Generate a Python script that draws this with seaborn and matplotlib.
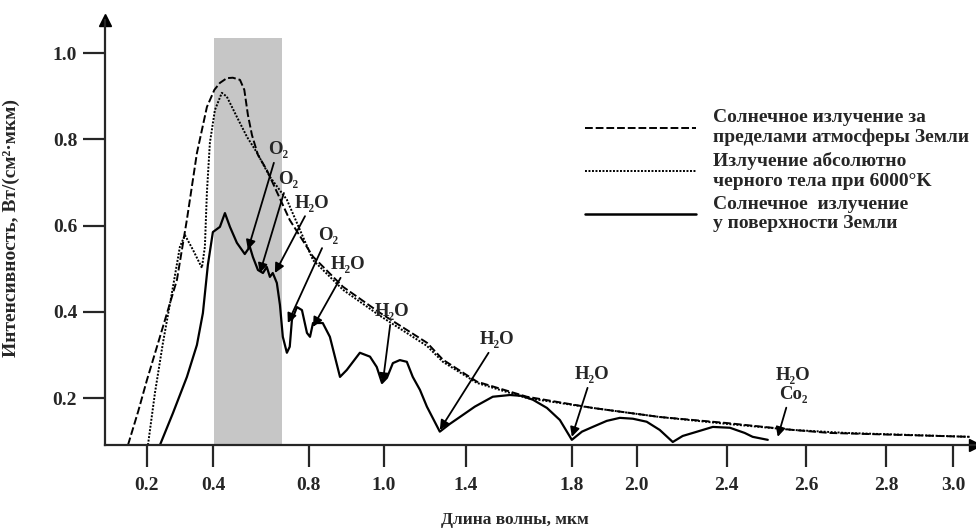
import numpy as np
import pandas as pd
import matplotlib
matplotlib.use('Agg')
import matplotlib.pyplot as plt
import seaborn as sns
from matplotlib.lines import Line2D

# --- data (wavelength in um, intensity in W/(cm2*um)) ---
sun_outside_wl = [0.144, 0.175, 0.201, 0.24, 0.291, 0.321, 0.351, 0.381, 0.405, 0.428,
                  0.457, 0.482, 0.512, 0.53, 0.545, 0.562, 0.587, 0.624, 0.72, 0.811,
                  0.891, 0.989, 1.211, 1.288, 1.442, 1.631, 1.865, 2.102, 2.4, 2.566,
                  2.658, 3.05]
sun_outside_val = [0.091, 0.17, 0.242, 0.342, 0.474, 0.614, 0.768, 0.875, 0.915, 0.931,
                   0.942, 0.943, 0.938, 0.915, 0.857, 0.81, 0.764, 0.729, 0.613, 0.528,
                   0.458, 0.398, 0.328, 0.289, 0.238, 0.203, 0.177, 0.156, 0.142, 0.126,
                   0.119, 0.110]

blackbody_wl = [0.204, 0.225, 0.249, 0.276, 0.30, 0.315, 0.339, 0.366, 0.375, 0.381,
                0.39, 0.407, 0.436, 0.457, 0.499, 0.541, 0.583, 0.637, 0.708, 0.811,
                0.891, 0.989, 1.21, 1.288, 1.442, 1.631, 1.865, 2.102, 2.4, 2.566,
                2.7, 3.05]
blackbody_val = [0.091, 0.212, 0.328, 0.444, 0.551, 0.578, 0.544, 0.502, 0.551, 0.676,
                 0.792, 0.868, 0.908, 0.899, 0.852, 0.806, 0.769, 0.713, 0.66, 0.52,
                 0.451, 0.391, 0.321, 0.284, 0.235, 0.2, 0.177, 0.156, 0.14, 0.126,
                 0.119, 0.11]

surface_wl = [0.240, 0.279, 0.321, 0.351, 0.369, 0.384, 0.399, 0.428, 0.449, 0.470,
              0.499, 0.532, 0.553, 0.566, 0.587, 0.608, 0.624, 0.637, 0.649, 0.666,
              0.679, 0.691, 0.708, 0.720, 0.729, 0.750, 0.771, 0.792, 0.803, 0.811,
              0.837, 0.856, 0.883, 0.901, 0.936, 0.963, 0.981, 0.995, 1.015, 1.044,
              1.078, 1.112, 1.141, 1.176, 1.210, 1.273, 1.322, 1.371, 1.434, 1.502,
              1.567, 1.612, 1.654, 1.707, 1.756, 1.801, 1.832, 1.865, 1.908, 1.948,
              1.988, 2.044, 2.102, 2.160, 2.204, 2.249, 2.338, 2.408, 2.445, 2.465,
              2.503]
surface_val = [0.091, 0.165, 0.249, 0.323, 0.397, 0.509, 0.585, 0.597, 0.629, 0.597,
               0.560, 0.534, 0.551, 0.527, 0.497, 0.490, 0.504, 0.481, 0.490, 0.467,
               0.416, 0.342, 0.305, 0.319, 0.381, 0.411, 0.404, 0.351, 0.342, 0.374,
               0.374, 0.342, 0.249, 0.265, 0.305, 0.296, 0.272, 0.235, 0.247, 0.281,
               0.288, 0.284, 0.249, 0.219, 0.180, 0.122, 0.140, 0.156, 0.180, 0.203,
               0.207, 0.205, 0.196, 0.177, 0.149, 0.103, 0.122, 0.133, 0.147, 0.154,
               0.152, 0.145, 0.126, 0.098, 0.112, 0.119, 0.133, 0.131, 0.119, 0.110,
               0.103]

visible_band = [0.405, 0.687]

# absorption labels: text, label position, arrow tip
absorb_labels = ['O₂', 'O₂', 'H₂O', 'O₂', 'H₂O', 'H₂O', 'H₂O', 'H₂O', 'H₂O\nCo₂']
absorb_text_xy = [(0.670, 0.776), (0.712, 0.706), (0.808, 0.652), (0.851, 0.578),
                  (0.904, 0.509), (1.039, 0.400), (1.517, 0.335), (1.862, 0.254),
                  (2.566, 0.230)]
absorb_tip_xy = [(0.545, 0.544), (0.595, 0.490), (0.658, 0.490), (0.712, 0.374),
                 (0.811, 0.365), (0.997, 0.235), (1.273, 0.126), (1.801, 0.110),
                 (2.528, 0.110)]

x_ticks = [0.2, 0.4, 0.8, 1.0, 1.4, 1.8, 2.0, 2.4, 2.6, 2.8, 3.0]
y_ticks = [0.2, 0.4, 0.6, 0.8, 1.0]

legend_labels = ['Солнечное излучение за\nпределами атмосферы Земли',
                 'Излучение абсолютно\nчерного тела при 6000°K',
                 'Солнечное  излучение\nу поверхности Земли']

# the original x axis is drawn unevenly; reproduce it with a piecewise scale
scale_wl = [0.0, 0.2, 0.4, 0.8, 1.0, 1.4, 1.8, 2.0, 2.4, 2.6, 2.8, 3.0, 3.5]
scale_pos = [80.1, 146.7, 213.3, 309.0, 384.0, 466.0, 571.7, 637.0, 727.0, 806.7,
             886.7, 953.3, 1119.8]


def fwd(x):
    return np.interp(x, scale_wl, scale_pos)


def inv(p):
    return np.interp(p, scale_pos, scale_wl)


sns.set_style('ticks')
plt.rcParams['font.family'] = ['Liberation Serif', 'DejaVu Serif']

fig = plt.figure(figsize=(9.76, 5.32), dpi=100)
ax = fig.add_axes([0.1076, 0.1635, 0.891, 0.799])
ax.set_xscale('function', functions=(fwd, inv))
ax.set_xlim(0.075, 3.065)
ax.set_ylim(0.091, 1.077)

ax.axvspan(visible_band[0], visible_band[1], ymin=0, ymax=0.958,
           color='#c6c6c6', lw=0, zorder=0)

sns.lineplot(x=sun_outside_wl, y=sun_outside_val, ax=ax, estimator=None, sort=False,
             color='black', lw=1.4, dashes=False)
sns.lineplot(x=blackbody_wl, y=blackbody_val, ax=ax, estimator=None, sort=False,
             color='black', lw=1.4, dashes=False)
sns.lineplot(x=surface_wl, y=surface_val, ax=ax, estimator=None, sort=False,
             color='black', lw=1.6, dashes=False)
ax.lines[0].set_dashes((4, 1.5))
ax.lines[1].set_dashes((1, 0.8))

for lab, txy, tip in zip(absorb_labels, absorb_text_xy, absorb_tip_xy):
    ax.annotate(lab, xy=tip, xytext=txy, ha='center', va='center', fontsize=13.5,
                fontweight='bold', linespacing=1.15,
                arrowprops=dict(arrowstyle='-|>', color='black', lw=1.3,
                                mutation_scale=14, shrinkA=1, shrinkB=0))

ax.set_xticks(x_ticks)
ax.set_xticklabels([f'{t:.1f}' for t in x_ticks])
ax.set_yticks(y_ticks)
ax.set_yticklabels([f'{t:.1f}' for t in y_ticks])
ax.minorticks_off()
ax.tick_params(axis='x', direction='out', length=16, width=1.6, pad=7,
               labelsize=14)
ax.tick_params(axis='y', direction='out', length=16, width=1.6, pad=4,
               labelsize=14)
for lbl in ax.get_xticklabels() + ax.get_yticklabels():
    lbl.set_fontweight('bold')

sns.despine(ax=ax)
for side in ['left', 'bottom']:
    ax.spines[side].set_linewidth(1.6)
ax.plot(1, 0, '>k', ms=8, transform=ax.transAxes, clip_on=False)
ax.plot(0, 1, '^k', ms=8, transform=ax.transAxes, clip_on=False)

ax.set_ylabel('Интенсивность, Вт/(см²·мкм)', fontsize=14, fontweight='bold')
ax.yaxis.set_label_coords(-0.098, 0.51)
ax.set_xlabel('Длина волны, мкм', fontsize=12.5, fontweight='bold')
ax.xaxis.set_label_coords(0.471, -0.158)

handles = [Line2D([], [], color='black', lw=1.4, dashes=(4, 1.5)),
           Line2D([], [], color='black', lw=1.4, dashes=(1, 0.8)),
           Line2D([], [], color='black', lw=1.8)]
ax.legend(handles, legend_labels, loc='upper left', bbox_to_anchor=(0.552, 0.79),
          frameon=False, borderpad=0, borderaxespad=0, handlelength=5.7,
          handletextpad=0.9, labelspacing=0.3,
          prop={'size': 14, 'weight': 'bold'})

fig.savefig('out.png', dpi=100)
